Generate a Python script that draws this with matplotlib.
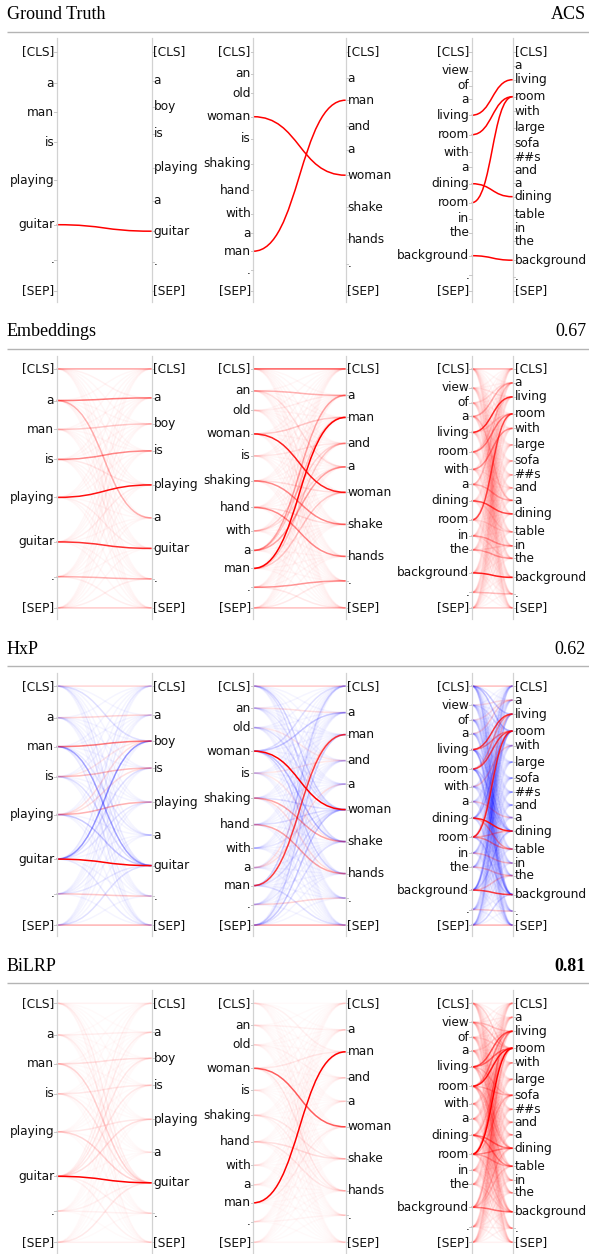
import matplotlib
matplotlib.use("Agg")
import matplotlib.pyplot as plt
from matplotlib.path import Path
from matplotlib.patches import PathPatch

# token sequences of the three sentence pairs
left_1 = ["[CLS]", "a", "man", "is", "playing", "guitar", ".", "[SEP]"]
right_1 = ["[CLS]", "a", "boy", "is", "playing", "a", "guitar", ".", "[SEP]"]
left_2 = ["[CLS]", "an", "old", "woman", "is", "shaking", "hand", "with", "a", "man", ".", "[SEP]"]
right_2 = ["[CLS]", "a", "man", "and", "a", "woman", "shake", "hands", ".", "[SEP]"]
left_3 = ["[CLS]", "view", "of", "a", "living", "room", "with", "a", "dining", "room",
          "in", "the", "background", ".", "[SEP]"]
right_3 = ["[CLS]", "a", "living", "room", "with", "large", "sofa", "##s", "and", "a",
           "dining", "table", "in", "the", "background", ".", "[SEP]"]

methods = ["Ground Truth", "Embeddings", "HxP", "BiLRP"]
scores = ["ACS", "0.67", "0.62", "0.81"]

# interactions: (left token, right token, weight), negative weights are drawn blue
gt_1 = [(5, 6, 1.0)]
gt_2 = [(3, 5, 1.0), (9, 2, 1.0)]
gt_3 = [(4, 2, 1.0), (5, 3, 1.0), (9, 3, 1.0), (8, 10, 1.0), (12, 14, 1.0)]

emb_1 = [(0, 0, .45), (1, 1, .6), (1, 5, .4), (2, 2, .3), (3, 3, .55), (4, 4, .95), (5, 6, .85),
         (6, 7, .4), (7, 8, .3), (3, 4, .15), (4, 6, .12), (5, 4, .12), (6, 8, .12), (7, 7, .12),
         (0, 1, .1)]
emb_2 = [(0, 0, .7), (1, 1, .4), (2, 1, .12), (3, 5, .9), (3, 2, .3), (4, 3, .15), (5, 6, .55),
         (6, 7, .55), (7, 3, .25), (8, 1, .45), (8, 4, .45), (9, 2, 1.0), (9, 3, .3), (10, 8, .5),
         (11, 9, .35), (5, 5, .2), (6, 6, .2), (9, 5, .3), (8, 2, .3), (1, 4, .2), (7, 4, .2),
         (11, 8, .15), (10, 9, .15)]
emb_3 = [(0, 0, .4), (3, 1, .4), (3, 9, .3), (4, 2, .85), (5, 3, .55), (6, 4, .5), (7, 9, .4),
         (7, 1, .3), (8, 10, .75), (9, 3, .75), (10, 12, .45), (11, 13, .45), (12, 14, .9),
         (13, 15, .35), (14, 16, .3), (2, 1, .2), (1, 2, .15), (5, 2, .25), (4, 3, .25),
         (9, 11, .2), (10, 13, .2), (11, 12, .2), (8, 11, .2), (6, 8, .15)]

hxp_1 = [(0, 0, .25), (1, 1, .25), (2, 2, .6), (3, 3, .35), (4, 4, .4), (5, 6, 1.0), (6, 7, .3),
         (7, 8, .4), (2, 6, -.45), (5, 2, -.5), (4, 6, -.3), (4, 2, .2), (4, 3, .2), (3, 6, -.2),
         (0, 2, -.2), (5, 3, -.2), (5, 4, -.15), (7, 6, -.2), (6, 6, -.15), (5, 8, -.15),
         (2, 8, -.15), (0, 6, -.15), (2, 5, -.15), (1, 6, -.15), (5, 0, -.15), (3, 2, .15),
         (6, 4, -.12)]
hxp_2 = [(0, 0, .3), (1, 1, .2), (3, 5, 1.0), (9, 2, .8), (5, 6, .45), (6, 7, .45), (10, 8, .25),
         (11, 9, .45), (8, 4, .2), (2, 3, .15), (4, 3, .15), (3, 1, -.3), (3, 6, -.35),
         (3, 7, -.25), (3, 0, -.2), (11, 5, -.3), (11, 2, -.25), (11, 6, -.2), (0, 5, -.25),
         (0, 6, -.2), (9, 0, -.25), (9, 5, -.2), (5, 5, -.2), (6, 5, -.2), (2, 5, -.2),
         (7, 5, -.15), (8, 2, .2), (5, 7, .2), (4, 6, .15), (1, 5, -.15), (9, 9, -.2),
         (10, 5, -.15)]
hxp_3 = [(0, 0, .35), (3, 1, .25), (4, 2, .8), (5, 3, .75), (4, 3, .5), (5, 2, .45), (9, 3, .85),
         (8, 10, .9), (8, 11, .45), (9, 11, .5), (9, 10, .4), (12, 14, .8), (12, 13, .3),
         (10, 12, .35), (11, 13, .35), (13, 15, .3), (14, 16, .4), (6, 4, .3), (7, 9, .3),
         (1, 1, .2), (2, 1, .2), (9, 2, .3), (0, 3, -.35), (0, 2, -.3), (4, 14, -.35),
         (5, 14, -.35), (5, 10, -.3), (8, 3, -.35), (9, 14, -.3), (12, 3, -.35), (12, 2, -.3),
         (8, 0, -.25), (14, 3, -.25), (4, 10, -.3), (12, 10, -.3), (0, 14, -.25), (14, 14, -.25),
         (1, 3, -.2), (6, 10, -.2), (3, 14, -.2), (0, 10, -.2), (8, 16, -.2), (4, 16, -.2),
         (12, 0, -.2), (5, 16, -.2), (11, 3, -.2), (10, 3, -.2), (2, 14, -.2)]

bilrp_1 = [(5, 6, 1.0), (2, 6, .25), (4, 6, .25), (1, 6, .12), (0, 6, .12), (3, 6, .15),
           (6, 6, .1), (7, 6, .15), (5, 4, .2), (5, 2, .15), (5, 3, .15), (5, 1, .12), (5, 0, .1),
           (5, 8, .1), (5, 7, .1), (2, 2, .2), (3, 3, .15), (1, 1, .12), (0, 0, .1), (4, 4, .15),
           (6, 7, .1), (7, 8, .12), (0, 8, .08)]
bilrp_2 = [(3, 5, .7), (9, 2, 1.0), (6, 6, .2), (6, 7, .15), (5, 6, .15), (3, 7, .15), (0, 2, .1),
           (1, 1, .1), (2, 3, .08), (9, 5, .12), (3, 2, .15), (5, 7, .1), (11, 9, .08),
           (10, 8, .08)]
bilrp_3 = [(4, 2, .7), (4, 3, .6), (5, 3, .9), (5, 2, .5), (9, 3, 1.0), (9, 2, .5), (8, 10, .6),
           (8, 11, .5), (9, 10, .5), (9, 11, .4), (12, 14, .6), (12, 3, .35), (5, 10, .35),
           (5, 6, .35), (4, 6, .3), (9, 6, .35), (8, 3, .35), (4, 10, .3), (5, 11, .3),
           (0, 3, .25), (1, 2, .3), (1, 3, .3), (12, 10, .3), (12, 11, .25), (3, 2, .2),
           (6, 3, .2), (7, 3, .2), (2, 3, .2), (5, 14, .25), (4, 14, .2), (9, 14, .25),
           (8, 6, .2), (11, 14, .2), (10, 14, .15)]

# weight of every remaining token pair (faint background)
floor_gt = [0, 0, 0]
floor_emb = [.07, .07, .08]
floor_hxp = [-.08, -.08, -.09]
floor_bilrp = [.05, .05, .1]

links = [[gt_1, gt_2, gt_3], [emb_1, emb_2, emb_3], [hxp_1, hxp_2, hxp_3],
         [bilrp_1, bilrp_2, bilrp_3]]
floors = [floor_gt, floor_emb, floor_hxp, floor_bilrp]

# --- layout (pixels) ---
W, H = 589, 1254
pairs = [(left_1, right_1), (left_2, right_2), (left_3, right_3)]
col_x = [(56.7, 151.7), (253.3, 345.7), (471.7, 512.7)]
# token heights below the section rule
pos_l = [[20, 51.6, 80.5, 110.5, 148.5, 193, 227.8, 259],
         [20, 42, 61.5, 85, 107, 132, 158.5, 182, 201.5, 219.5, 238.4, 259],
         [20, 39, 54, 67.5, 83.5, 103, 120.5, 135.5, 152, 171, 187, 201, 224, 243.5, 259]]
pos_r = [[20, 49, 75, 102, 136, 169, 199.5, 230, 259],
         [20, 46.5, 68.5, 94.5, 118, 143.5, 175.5, 207.5, 232, 259],
         [20, 34, 48, 65, 79.5, 96, 112, 126, 139, 151.5, 165, 183, 197, 209.5, 228.5, 245, 259]]
rule_y0, section_h = 31.7, 317.2

fig = plt.figure(figsize=(W / 100, H / 100), dpi=100)
ax = fig.add_axes([0, 0, 1, 1])
ax.set_xlim(0, W)
ax.set_ylim(H, 0)
ax.axis("off")

serif = "Liberation Serif"
tok_kw = dict(fontsize=8.7, color="#111111", va="center", family="DejaVu Sans")


def curve(x0, y0, x1, y1, w):
    d = (x1 - x0) / 2
    p = Path([(x0, y0), (x0 + d, y0), (x1 - d, y1), (x1, y1)],
             [Path.MOVETO, Path.CURVE4, Path.CURVE4, Path.CURVE4])
    c = "#ff0000" if w > 0 else "#0000ff"
    ax.add_patch(PathPatch(p, fc="none", ec=c, lw=1.1, alpha=min(abs(w), 1.0) ** 1.3,
                           capstyle="butt"))


for s, name in enumerate(methods):
    y0 = rule_y0 + s * section_h
    ax.text(7, y0 - 12.5, name, family=serif, fontsize=13, va="baseline", ha="left")
    ax.text(586, y0 - 12.5, scores[s], family=serif, fontsize=13, va="baseline", ha="right",
            fontweight="bold" if name == "BiLRP" else "normal")
    ax.plot([7, 589], [y0, y0], color="#b4b4b4", lw=1.0, solid_capstyle="butt")

    for p, (lt, rt) in enumerate(pairs):
        xl, xr = col_x[p]
        yl = [y0 + v for v in pos_l[p]]
        yr = [y0 + v for v in pos_r[p]]
        for x in (xl, xr):
            ax.plot([x, x], [y0 + 6.6, y0 + 270], color="#d2d2d2", lw=0.9)

        # full weight table: faint floor, then the listed interactions
        table = {(i, j): floors[s][p] for i in range(len(lt)) for j in range(len(rt))}
        for i, j, w in links[s][p]:
            table[(i, j)] = w
        for (i, j), w in sorted(table.items(), key=lambda kv: abs(kv[1])):
            if w != 0:
                curve(xl, yl[i], xr, yr[j], w)

        for t, y in zip(lt, yl):
            ax.plot([xl - 2.5, xl], [y, y], color="#c8c8c8", lw=0.7)
            ax.text(xl - 2.5, y, t, ha="right", **tok_kw)
        for t, y in zip(rt, yr):
            ax.plot([xr, xr + 2.5], [y, y], color="#c8c8c8", lw=0.7)
            ax.text(xr + 1.8, y, t, ha="left", **tok_kw)

fig.savefig("out.png", dpi=100)
